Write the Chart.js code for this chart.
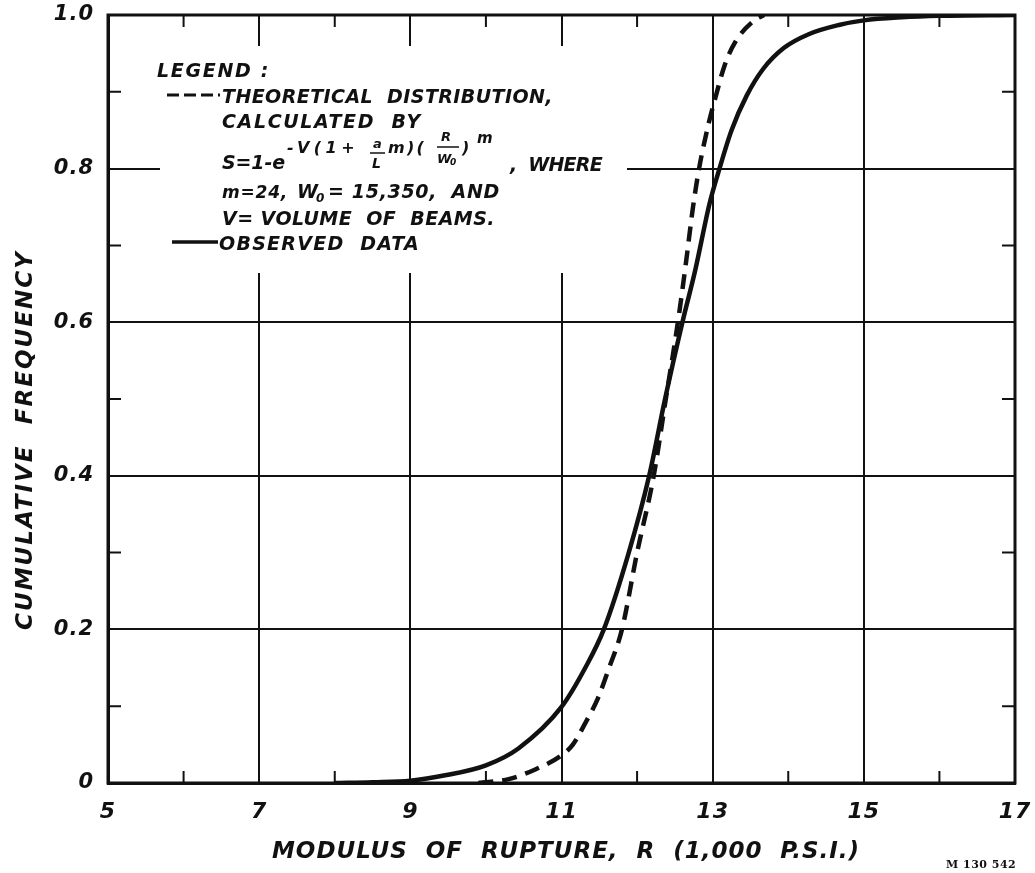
<!DOCTYPE html>
<html>
<head>
<meta charset="utf-8">
<title>Cumulative frequency vs modulus of rupture</title>
<script src="https://cdn.jsdelivr.net/npm/chart.js@4/dist/chart.umd.min.js"></script>
<style>
  html, body { margin: 0; padding: 0; background: #fff; }
  #wrap { width: 1035px; height: 873px; }
</style>
</head>
<body>
<div id="wrap"><canvas id="chart" width="1035" height="873"></canvas></div>
<script>
// --- data (R in 1,000 p.s.i., S = cumulative frequency)
const observedR = [8.0, 8.5, 9.0, 9.46, 10.0, 10.43, 11.0, 11.32, 11.56, 11.89, 12.16, 12.37, 12.6, 12.77, 12.96, 13.09, 13.25, 13.45, 13.67, 13.94, 14.27, 14.67, 15.0, 15.5, 16.0, 17.0];
const observedS = [0, 0.001, 0.003, 0.01, 0.023, 0.045, 0.099, 0.151, 0.2, 0.3, 0.4, 0.5, 0.6, 0.668, 0.755, 0.8, 0.85, 0.895, 0.93, 0.957, 0.975, 0.987, 0.993, 0.997, 0.999, 1.0];

const theoryR = [9.9, 10.3, 10.66, 11.0, 11.15, 11.32, 11.48, 11.63, 11.8, 12.0, 12.22, 12.38, 12.54, 12.65, 12.74, 12.82, 12.95, 13.03, 13.16, 13.3, 13.55, 13.68];
const theoryS = [0, 0.005, 0.018, 0.036, 0.05, 0.079, 0.11, 0.15, 0.2, 0.3, 0.4, 0.5, 0.6, 0.68, 0.75, 0.8, 0.86, 0.89, 0.935, 0.965, 0.993, 1.0];

// axis ranges / ticks
const xRange = [5, 17];
const yRange = [0, 1];
const xMinorTicks = [6, 8, 10, 12, 14, 16];
const yMinorTicks = [0.1, 0.3, 0.5, 0.7, 0.9];

const INK = '#111';
const FONT = "'DejaVu Sans', sans-serif";

function pts(xs, ys) { return xs.map((x, i) => ({ x, y: ys[i] })); }

// text helper: left aligned, optional stretch to a given width via letterSpacing
function txt(ctx, str, x, y, size, width) {
  ctx.font = `italic bold ${size}px ${FONT}`;
  ctx.letterSpacing = '0px';
  if (width) {
    const m = ctx.measureText(str).width;
    const n = [...str].length;
    ctx.letterSpacing = ((width - m) / n) + 'px';
  }
  ctx.fillText(str, x, y);
}

// scales: fixed size, no extra label padding (so the frame lands where the original is)
function noPad(s) {
  s.paddingTop = 0; s.paddingBottom = 0; s.paddingLeft = 0; s.paddingRight = 0;
}

// --- plugin: paper look (frame, minor ticks, legend block, titles)
const paper = {
  id: 'paper',
  beforeDraw(chart) {
    const ctx = chart.ctx;
    ctx.save();
    ctx.fillStyle = '#fff';
    ctx.fillRect(0, 0, chart.width, chart.height);
    ctx.restore();
    ctx.letterSpacing = '1px';
  },
  beforeDatasetsDraw(chart) {
    // legend sits on a blank patch of the grid
    const ctx = chart.ctx;
    ctx.save();
    ctx.fillStyle = '#fff';
    ctx.fillRect(160, 46, 467, 227);
    ctx.restore();
  },
  afterDatasetsDraw(chart) {
    const ctx = chart.ctx;
    const { left, right, top, bottom } = chart.chartArea;
    const xs = chart.scales.x, ys = chart.scales.y;
    ctx.save();
    ctx.strokeStyle = INK;
    ctx.fillStyle = INK;

    // frame
    ctx.lineWidth = 3;
    ctx.strokeRect(left, top, right - left, bottom - top);

    // minor ticks inside the frame
    ctx.lineWidth = 2;
    ctx.beginPath();
    xMinorTicks.forEach(v => {
      const px = xs.getPixelForValue(v);
      ctx.moveTo(px, bottom); ctx.lineTo(px, bottom - 12);
      ctx.moveTo(px, top); ctx.lineTo(px, top + 12);
    });
    yMinorTicks.forEach(v => {
      const py = ys.getPixelForValue(v);
      ctx.moveTo(left, py); ctx.lineTo(left + 13, py);
      ctx.moveTo(right, py); ctx.lineTo(right - 13, py);
    });
    ctx.stroke();

    // legend text
    ctx.textAlign = 'left';
    ctx.textBaseline = 'alphabetic';
    txt(ctx, 'LEGEND :', 157, 77, 19, 113);

    ctx.lineWidth = 3;
    ctx.setLineDash([12, 5]);
    ctx.beginPath(); ctx.moveTo(167, 95); ctx.lineTo(220, 95); ctx.stroke();
    ctx.setLineDash([]);
    txt(ctx, 'THEORETICAL  DISTRIBUTION,', 222, 103, 19, 331);
    txt(ctx, 'CALCULATED  BY', 222, 128, 19, 200);

    // S = 1 - e^{-V(1 + a/L m)(R/W0)^m}, WHERE
    txt(ctx, 'S=1-e', 222, 169, 19, 63);
    txt(ctx, '-V(1+', 287, 153, 16, 72);
    txt(ctx, 'a', 373, 148, 13);
    ctx.lineWidth = 1.5;
    ctx.beginPath(); ctx.moveTo(370, 153); ctx.lineTo(385, 153); ctx.stroke();
    txt(ctx, 'L', 372, 168, 14);
    txt(ctx, 'm)(', 388, 153, 16, 38);
    txt(ctx, 'R', 441, 141, 13);
    ctx.beginPath(); ctx.moveTo(437, 147); ctx.lineTo(459, 147); ctx.stroke();
    txt(ctx, 'W', 437, 163, 13);
    txt(ctx, '0', 450, 165, 9);
    txt(ctx, ')', 462, 153, 16);
    txt(ctx, 'm', 477, 143, 15);
    txt(ctx, ',  WHERE', 510, 171, 19, 92);

    txt(ctx, 'm=24,', 222, 198, 17, 66);
    txt(ctx, 'W', 297, 198, 19);
    txt(ctx, '0', 316, 202, 12);
    txt(ctx, '= 15,350,  AND', 328, 198, 19, 172);
    txt(ctx, 'V= VOLUME  OF  BEAMS.', 222, 225, 19, 273);

    ctx.lineWidth = 3.5;
    ctx.beginPath(); ctx.moveTo(172, 242); ctx.lineTo(218, 242); ctx.stroke();
    txt(ctx, 'OBSERVED  DATA', 219, 250, 19, 201);

    // axis titles
    txt(ctx, 'MODULUS  OF  RUPTURE,  R  (1,000  P.S.I.)', 272, 858, 23, 588);
    ctx.save();
    ctx.translate(32, 630);
    ctx.rotate(-Math.PI / 2);
    txt(ctx, 'CUMULATIVE  FREQUENCY', 0, 0, 23, 380);
    ctx.restore();

    // drawing number
    ctx.font = `bold 11px 'DejaVu Serif', serif`;
    ctx.letterSpacing = '0.5px';
    ctx.fillText('M 130 542', 946, 868);

    ctx.restore();
  }
};

window.addEventListener('DOMContentLoaded', () => {
  const ctx = document.getElementById('chart').getContext('2d');

  new Chart(ctx, {
    type: 'scatter',
    data: {
      datasets: [
        {
          label: 'Theoretical distribution',
          data: pts(theoryR, theoryS),
          showLine: true,
          borderColor: INK,
          borderWidth: 4.5,
          borderDash: [15, 9],
          pointRadius: 0,
          cubicInterpolationMode: 'monotone'
        },
        {
          label: 'Observed data',
          data: pts(observedR, observedS),
          showLine: true,
          borderColor: INK,
          borderWidth: 4.5,
          pointRadius: 0,
          cubicInterpolationMode: 'monotone'
        }
      ]
    },
    options: {
      responsive: false,
      animation: false,
      events: [],
      layout: { padding: { left: 0, top: 15, right: 20, bottom: 0 } },
      plugins: {
        legend: { display: false },
        title: { display: false },
        tooltip: { enabled: false }
      },
      scales: {
        x: {
          type: 'linear',
          min: xRange[0], max: xRange[1],
          afterFit: s => { s.height = 90; noPad(s); },
          grid: { color: INK, lineWidth: 2, drawTicks: false },
          border: { color: INK, width: 3 },
          ticks: {
            stepSize: 2,
            padding: 16,
            color: INK,
            font: { family: FONT, size: 22, style: 'italic', weight: 'bold' }
          }
        },
        y: {
          type: 'linear',
          min: yRange[0], max: yRange[1],
          afterFit: s => { s.width = 108; noPad(s); },
          grid: { color: INK, lineWidth: 2, drawTicks: false },
          border: { color: INK, width: 3 },
          ticks: {
            stepSize: 0.2,
            padding: 14,
            color: INK,
            font: { family: FONT, size: 21, style: 'italic', weight: 'bold' },
            callback: v => v === 0 ? '0' : v.toFixed(1)
          }
        }
      }
    },
    plugins: [paper]
  });
});
</script>
</body>
</html>
